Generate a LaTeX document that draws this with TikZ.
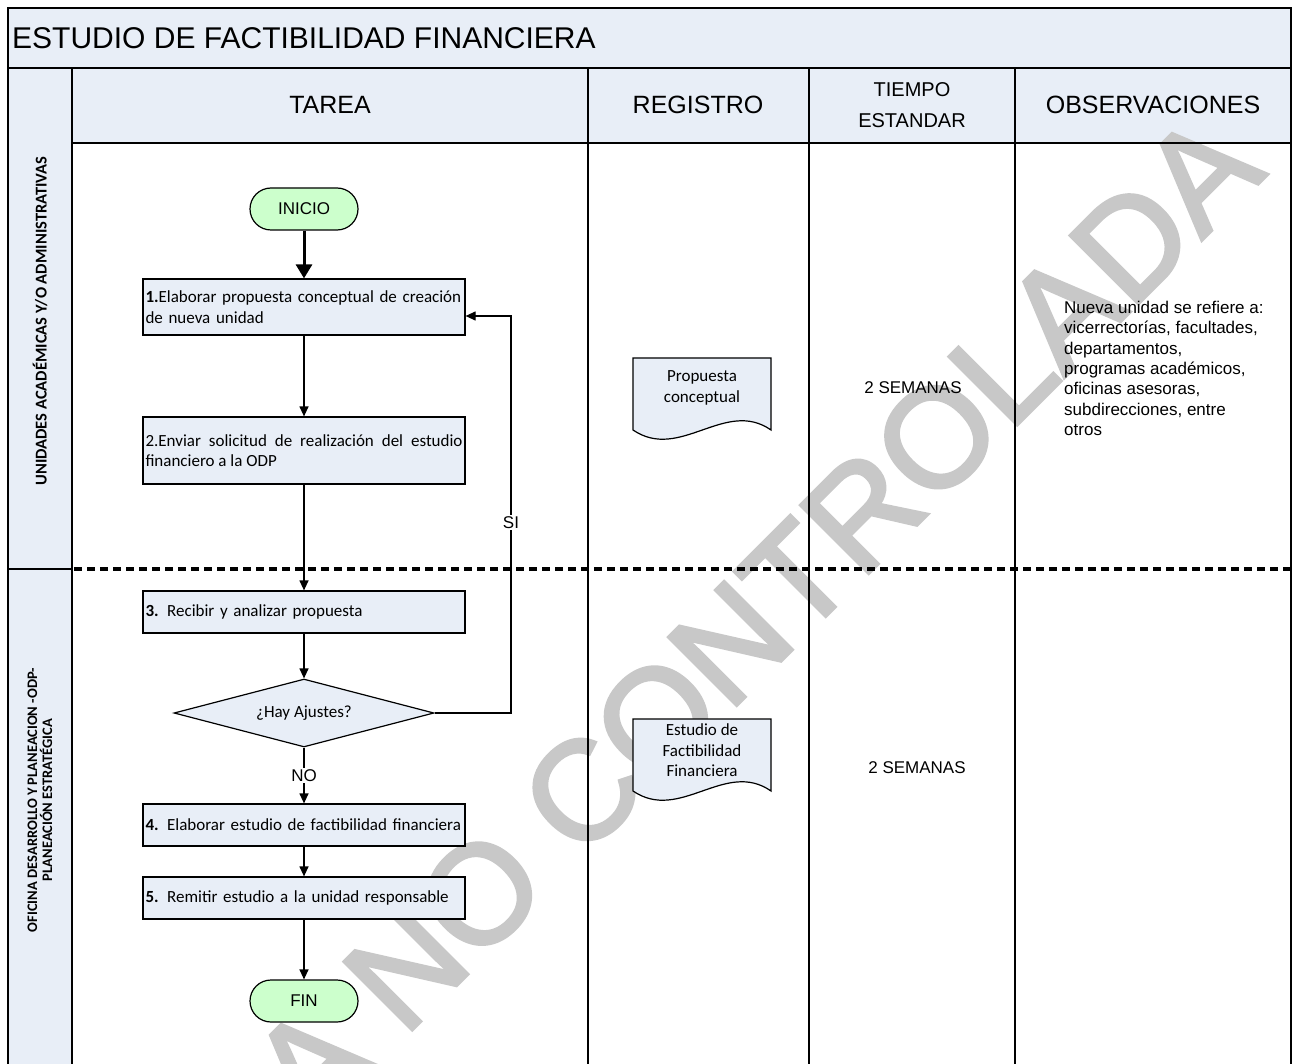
\documentclass[tikz,border=0pt]{standalone}
\usepackage{fontspec}
\setmainfont{Liberation Sans}
\newfontfamily\calib{Carlito}
\newfontfamily\wmfont[FakeBold=2.5]{Liberation Sans}
\usetikzlibrary{shapes.geometric,arrows.meta}
\definecolor{lblue}{RGB}{232,238,247}
\definecolor{lgreen}{RGB}{204,255,204}
\definecolor{wmgray}{RGB}{200,200,200}
\begin{document}
\begin{tikzpicture}[x=1pt,y=-1pt,
  arr/.style={line width=1.2pt, -{Triangle[length=10pt,width=9pt]}},
  thickarr/.style={line width=3pt, -{Triangle[length=14pt,width=16pt]}},
  procbox/.style={draw, line width=1.2pt, fill=lblue, inner xsep=2.5pt, inner ysep=0pt, text width=317pt, align=left, font=\calib\fontsize{17}{20.5}\selectfont},
  term/.style={draw, line width=1.2pt, fill=lgreen, rounded corners=21pt, minimum width=108pt, minimum height=42pt, font=\fontsize{17}{20}\selectfont},
  decision/.style={draw, diamond, line width=1.2pt, fill=lblue, aspect=3.82, minimum width=260pt, minimum height=68pt, inner sep=0pt, font=\calib\fontsize{17}{20}\selectfont},
  docshape/.style={draw, line width=1.2pt, fill=lblue},
  doctext/.style={align=center, font=\calib\fontsize{17}{20.5}\selectfont},
  hdr/.style={font=\fontsize{25}{29}\selectfont},
  lane/.style={rotate=90, align=center, font=\calib\bfseries\fontsize{16.5}{16}\selectfont},
  info/.style={font=\fontsize{17}{20.3}\selectfont},
  lbl/.style={fill=white, inner sep=1.5pt, font=\fontsize{17}{20}\selectfont},
  rule/.style={line width=1.3pt},
]
\useasboundingbox (0,0) rectangle (1293,1064);
\fill[white] (0,0) rectangle (1293,1064);
\fill[lblue] (8,8) rectangle (1291,68);
\fill[lblue] (72,68) rectangle (1291,143);
\fill[lblue] (8,68) rectangle (72,1064);

% watermark
\node[text=wmgray, font=\wmfont\fontsize{140}{140}\selectfont, rotate=45, anchor=base east, inner sep=0pt] (wm) at (1268,174) {COPIA NO CONTROLADA};

% frame and grid
\draw[line width=1.5pt] (8,1064) -- (8,8) -- (1291,8) -- (1291,1064);
\draw[rule] (8,68) -- (1291,68);
\draw[rule] (72,143) -- (1291,143);
\draw[rule] (72,68) -- (72,1064);
\draw[rule] (588,68) -- (588,1064);
\draw[rule] (809,68) -- (809,1064);
\draw[rule] (1015,68) -- (1015,1064);
\draw[line width=2pt] (8,569) -- (72,569);
\draw[line width=3.5pt, dash pattern=on 8pt off 5pt] (74,569) -- (1293,569);

% titles
\node[anchor=west, font=\fontsize{30}{34}\selectfont, inner sep=0pt] (title) at (12,38) {ESTUDIO DE FACTIBILIDAD FINANCIERA};
\node[hdr] (h1) at (330,105) {TAREA};
\node[hdr] (h2) at (698,105) {REGISTRO};
\node[align=center, font=\fontsize{20}{31}\selectfont] (h3) at (912,105) {TIEMPO\\ESTANDAR};
\node[hdr] (h4) at (1153,105) {OBSERVACIONES};

% lanes
\node[lane] (l1) at (40,321) {UNIDADES ACADÉMICAS Y/O ADMINISTRATIVAS};
\node[lane, font=\calib\bfseries\fontsize{14.5}{15}\selectfont] (l2) at (40,800) {OFICINA DESARROLLO Y PLANEACION -ODP-\\PLANEACIÓN ESTRATÉGICA};

% flow
\node[term] (ini) at (304,209) {INICIO};
\node[procbox, minimum height=56pt] (b1) at (304,307) {\textbf{1.}Elaborar propuesta conceptual de creación\\de nueva unidad};
\node[procbox, align=justify, minimum height=67pt] (b2) at (304,450.5) {2.Enviar solicitud de realización del estudio\linebreak financiero a la ODP};
\node[procbox, minimum height=42pt] (b3) at (304,612) {\textbf{3.} Recibir y analizar propuesta};
\node[decision] (dia) at (304,713) {¿Hay Ajustes?};
\node[procbox, minimum height=42pt] (b4) at (304,825) {\textbf{4.} Elaborar estudio de factibilidad financiera};
\node[procbox, minimum height=42pt] (b5) at (304,898) {\textbf{5.} Remitir estudio a la unidad responsable};
\node[term] (fin) at (304,1001) {FIN};

\draw[thickarr] (ini) -- (b1);
\draw[arr] (b1) -- (b2);
\draw[arr] (b2) -- (b3);
\draw[arr] (b3) -- (dia);
\draw[arr] (dia) -- node[lbl]{NO} (b4);
\draw[arr] (b4) -- (b5);
\draw[arr] (b5) -- (fin);
\coordinate (sitop) at (511,316);
\draw[arr] (dia.east) -| node[lbl, pos=0.74]{SI} (sitop) -- (sitop -| b1.east);

% documents
\draw[docshape] (633,358) -- (771,358) -- (771,430) .. controls (725,398) and (680,462) .. (633,430) -- cycle;
\node[doctext] (d1) at (702,388) {Propuesta\\conceptual};
\draw[docshape] (633,719) -- (771,719) -- (771,791) .. controls (725,759) and (680,823) .. (633,791) -- cycle;
\node[doctext] (d2) at (702,750.5) {Estudio de\\Factibilidad\\Financiera};

% times
\node[info] (t1) at (913,388) {2 SEMANAS};
\node[info] (t2) at (917,768) {2 SEMANAS};

% observations
\node[info, align=left, anchor=north west, inner sep=0pt] (obs) at (1064,301) {Nueva unidad se refiere a:\\vicerrectorías, facultades,\\departamentos,\\programas académicos,\\oficinas asesoras,\\subdirecciones, entre\\otros};
\end{tikzpicture}
\end{document}
